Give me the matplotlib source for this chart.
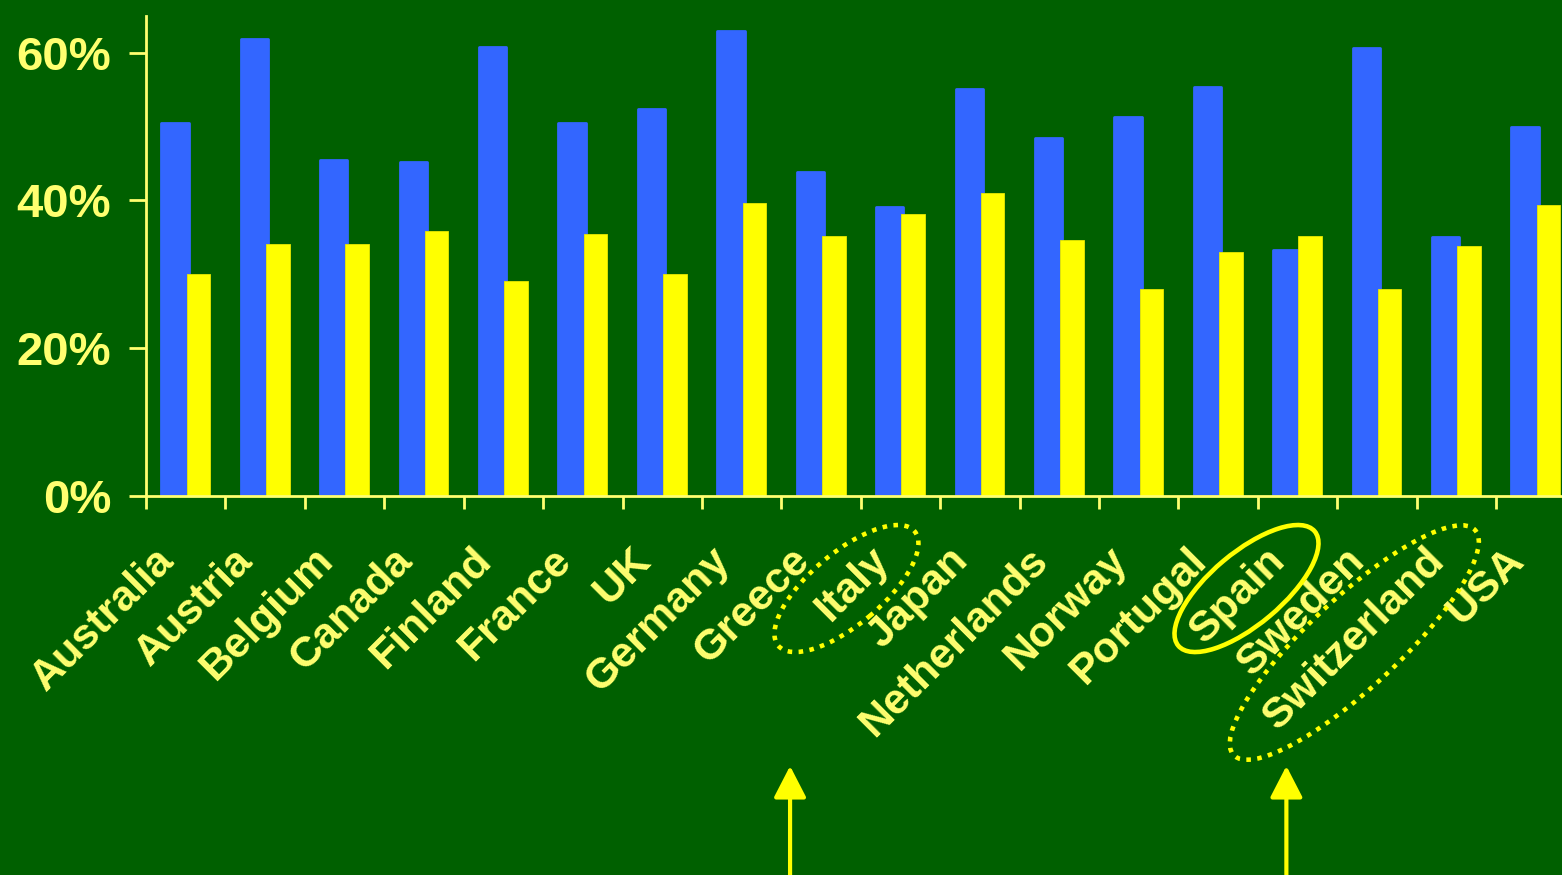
import numpy as np
import matplotlib
matplotlib.use("Agg")
import matplotlib.pyplot as plt
from matplotlib.patches import Ellipse
from matplotlib.ticker import PercentFormatter, FixedLocator
from matplotlib import transforms

# countries and the two shares (%) per country
countries = ["Australia", "Austria", "Belgium", "Canada", "Finland", "France",
             "UK", "Germany", "Greece", "Italy", "Japan", "Netherlands",
             "Norway", "Portugal", "Spain", "Sweden", "Switzerland", "USA"]
blue_vals = [50.4, 61.8, 45.5, 45.2, 60.7, 50.4, 52.4, 62.9, 43.8, 39.1,
             55.1, 48.5, 51.3, 55.4, 33.3, 60.6, 35.0, 49.9]
yellow_vals = [30.0, 34.1, 34.1, 35.8, 29.1, 35.5, 30.0, 39.6, 35.2, 38.2,
               41.0, 34.6, 28.0, 33.0, 35.2, 28.0, 33.8, 39.4]
yticks = [0, 20, 40, 60]

BG = "#006000"
BLUE = "#3366FF"
YEL = "#FFFF00"
TXT = "#FFFF70"

plt.rcParams["font.family"] = ["Liberation Sans", "DejaVu Sans"]
plt.rcParams["font.weight"] = "bold"

fig = plt.figure(figsize=(15.62, 8.75), dpi=100, facecolor=BG)
ax = fig.add_axes([0.0935, 0.4331, 0.9151, 0.5491])
ax.set_facecolor(BG)

x = np.arange(len(countries))
ax.bar(x - 0.135, blue_vals, width=0.343, color=BLUE, edgecolor=BLUE,
       linewidth=2, joinstyle="round", zorder=2)
ax.bar(x + 0.16, yellow_vals, width=0.297, color=YEL, edgecolor="#E8E800",
       linewidth=0.6, zorder=3)

ax.set_xlim(-0.5, len(countries) - 0.5)
ax.set_ylim(0, 65)

for s in ["top", "right"]:
    ax.spines[s].set_visible(False)
for s in ["left", "bottom"]:
    ax.spines[s].set_color(TXT)
    ax.spines[s].set_linewidth(2)
    ax.spines[s].set_zorder(5)

ax.set_yticks(yticks)
ax.yaxis.set_major_formatter(PercentFormatter(decimals=0))
ax.tick_params(axis="y", colors=TXT, length=12, width=2, pad=13,
               labelsize=34)

# boundary ticks below the axis, labels drawn separately
ax.set_xticks([])
ax.xaxis.set_minor_locator(FixedLocator(np.arange(-0.5, len(countries), 1)))
ax.tick_params(axis="x", which="minor", colors=TXT, length=9, width=2)

for i, name in enumerate(countries):
    ax.annotate(name, xy=(i, 0), xycoords=("data", "axes fraction"),
                xytext=(-13, -42), textcoords="offset points",
                rotation=45, rotation_mode="anchor", ha="right", va="center",
                fontsize=31, fontweight="bold", color=TXT, annotation_clip=False)


def ring(idx, dx, dy, w, h, ang, ls):
    # ellipse sized in inches, pinned to a category position on the axis
    tr = fig.dpi_scale_trans + transforms.ScaledTranslation(idx, 0, ax.transData)
    e = Ellipse((dx, dy), w, h, angle=ang, transform=tr, fill=False,
                edgecolor=YEL, linewidth=3.3, linestyle=ls, clip_on=False)
    if ls != "-":
        e.set_capstyle("butt")
    fig.add_artist(e)


dotted = (0, (1, 1.4))
ring(countries.index("Italy"), -0.54, -0.925, 1.78, 0.72, 40, dotted)
ring(countries.index("Spain"), -0.51, -0.925, 1.78, 0.72, 40, "-")
ring(countries.index("Switzerland"), -1.02, -1.465, 3.30, 0.90, 43, dotted)

# pointer arrows from the bottom edge
for ax_x in [7.61, 13.86]:
    ax.annotate("", xy=(ax_x, 0.1246), xycoords=("data", "figure fraction"),
                xytext=(ax_x, -0.01), textcoords=("data", "figure fraction"),
                arrowprops=dict(arrowstyle="-|>,head_length=0.97,head_width=0.5",
                                color=YEL, lw=3, shrinkA=0, shrinkB=0,
                                mutation_scale=20),
                annotation_clip=False)

fig.savefig("out.png", dpi=100, facecolor=BG)
